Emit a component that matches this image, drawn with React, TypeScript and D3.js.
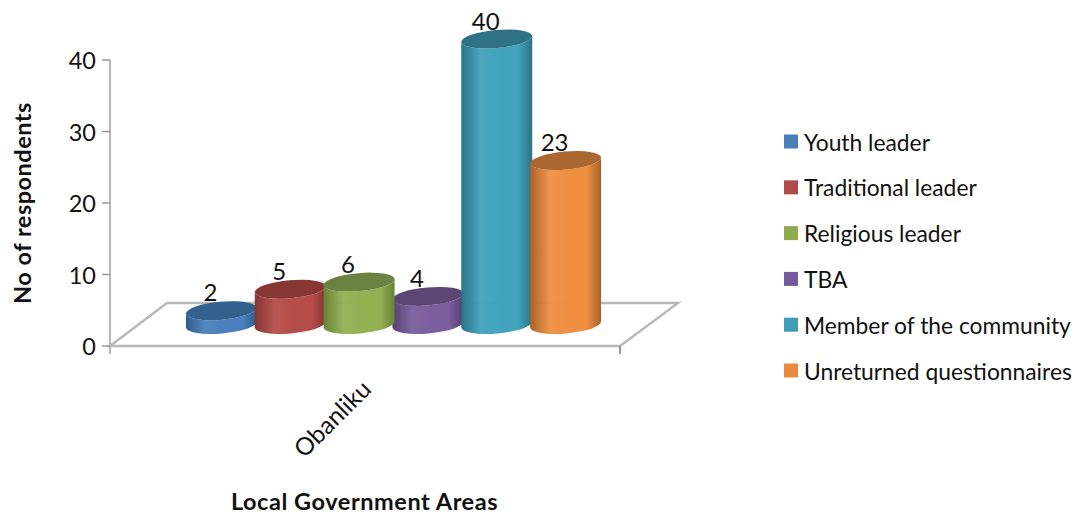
import React from "react";
import * as d3 from "d3";

// Respondents in Obanliku by role
const seriesNames = [
  "Youth leader",
  "Traditional leader",
  "Religious leader",
  "TBA",
  "Member of the community",
  "Unreturned questionnaires",
];
const seriesValues = [2, 5, 6, 4, 40, 23];
const yTicks = [0, 10, 20, 30, 40];
const categoryLabel = "Obanliku";
const yTitle = "No of respondents";
const xTitle = "Local Government Areas";

// light, mid and shadow tones per series
const lightColors = ["#4a80bd", "#b54d4a", "#93b053", "#7b5e9e", "#42a3bd", "#ee8f42"];
const edgeColors = ["#2e5c8e", "#853634", "#6a8238", "#553f70", "#2a7388", "#a8622a"];
const capColors = ["#33608c", "#883634", "#6b8240", "#5b4675", "#2f7285", "#aa672f"];
const swatchColors = ["#4a7ebb", "#ae4b48", "#8fab50", "#76599a", "#3f9db6", "#e98a3e"];

const FONT = "Lato, Carlito, sans-serif";
const AXIS_GREY = "#b9b9b9";

const y = d3.scaleLinear().domain([0, 40]).range([346, 60]);
const x = d3.scaleBand<string>().domain(seriesNames).range([187, 600]).padding(0);

const DEPTH_SHIFT = 21; // how far the cylinder row sits behind the front floor edge
const BASE_Y = 324.5;
const RY = 9;
const TILT = -5;
const drawOrder = [0, 1, 3, 2, 4, 5];

function cylinder(cx: number, topY: number, rx: number) {
  const rad = (TILT * Math.PI) / 180;
  const dx = rx * Math.cos(rad);
  const dy = rx * Math.sin(rad);
  return `M${cx - dx},${topY - dy}L${cx - dx},${BASE_Y - dy}A${rx},${RY} ${TILT} 0 0 ${cx + dx},${BASE_Y + dy}L${cx + dx},${topY + dy}A${rx},${RY} ${TILT} 0 1 ${cx - dx},${topY - dy}Z`;
}

export default function App() {
  const rx = x.bandwidth() / 2 + 1.2;
  return (
    <svg
      width={1083}
      height={518}
      style={{ position: "absolute", left: 0, top: 0, background: "#fff" }}
      fontFamily={FONT}
    >
      <defs>
        {seriesNames.map((_, i) => (
          <linearGradient key={i} id={`body-${i}`} x1="0" x2="1" y1="0" y2="0">
            <stop offset="0" stopColor={edgeColors[i]} />
            <stop offset="0.28" stopColor={lightColors[i]} stopOpacity={0.95} />
            <stop offset="0.55" stopColor={lightColors[i]} />
            <stop offset="0.8" stopColor={lightColors[i]} />
            <stop offset="1" stopColor={edgeColors[i]} />
          </linearGradient>
        ))}
      </defs>

      {/* floor */}
      <path
        d={`M110,${y(0)}L167,303L678,303L620,${y(0)}Z`}
        fill="#fff"
        stroke={AXIS_GREY}
        strokeWidth={2.5}
      />
      {/* value axis */}
      <line x1={110} x2={110} y1={y(40)} y2={y(0) + 8} stroke={AXIS_GREY} strokeWidth={2} />
      <line x1={620} x2={620} y1={y(0)} y2={y(0) + 8} stroke="#999" strokeWidth={2} />
      {yTicks.map((t) => (
        <g key={t}>
          <line x1={102} x2={110} y1={y(t)} y2={y(t)} stroke="#999" strokeWidth={1.5} />
          <text x={96} y={y(t)} textAnchor="end" dominantBaseline="central" fontSize={23.5} fill="#111">
            {t}
          </text>
        </g>
      ))}

      {/* cylinders */}
      {drawOrder.map((i) => {
        const name = seriesNames[i];
        const cx = x(name)! + x.bandwidth() / 2;
        const topY = y(seriesValues[i]) - DEPTH_SHIFT;
        return (
          <g key={name}>
            <path d={cylinder(cx, topY, rx)} fill={`url(#body-${i})`} />
            <ellipse
              cx={cx}
              cy={topY}
              rx={rx}
              ry={RY}
              transform={`rotate(${TILT} ${cx} ${topY})`}
              fill={capColors[i]}
            />
          </g>
        );
      })}

      {/* value labels */}
      {seriesNames.map((name, i) => (
        <text
          key={name}
          x={x(name)! + x.bandwidth() / 2 - 11}
          y={y(seriesValues[i]) - DEPTH_SHIFT - 19}
          textAnchor="middle"
          dominantBaseline="central"
          fontSize={24}
          fill="#111"
        >
          {seriesValues[i]}
        </text>
      ))}

      {/* category label */}
      <text
        transform="translate(366,384) rotate(-45)"
        textAnchor="end"
        dominantBaseline="central"
        fontSize={24.5}
        fill="#111"
      >
        {categoryLabel}
      </text>

      {/* axis titles */}
      <text
        transform="translate(22,203) rotate(-90)"
        textAnchor="middle"
        dominantBaseline="central"
        fontSize={23.5}
        fontWeight={700}
        letterSpacing={0.5}
        fill="#111"
      >
        {yTitle}
      </text>
      <text
        x={364.5}
        y={501}
        textAnchor="middle"
        dominantBaseline="central"
        fontSize={23.5}
        fontWeight={700}
        letterSpacing={0.55}
        fill="#111"
      >
        {xTitle}
      </text>

      {/* legend */}
      {seriesNames.map((name, i) => {
        const ly = d3.scaleLinear().domain([0, 5]).range([141.5, 370.5])(i);
        return (
          <g key={name}>
            <rect x={784} y={ly - 7} width={14} height={14} fill={swatchColors[i]} />
            <text x={804} y={ly} dominantBaseline="central" fontSize={22.8} fill="#111">
              {name}
            </text>
          </g>
        );
      })}
    </svg>
  );
}
